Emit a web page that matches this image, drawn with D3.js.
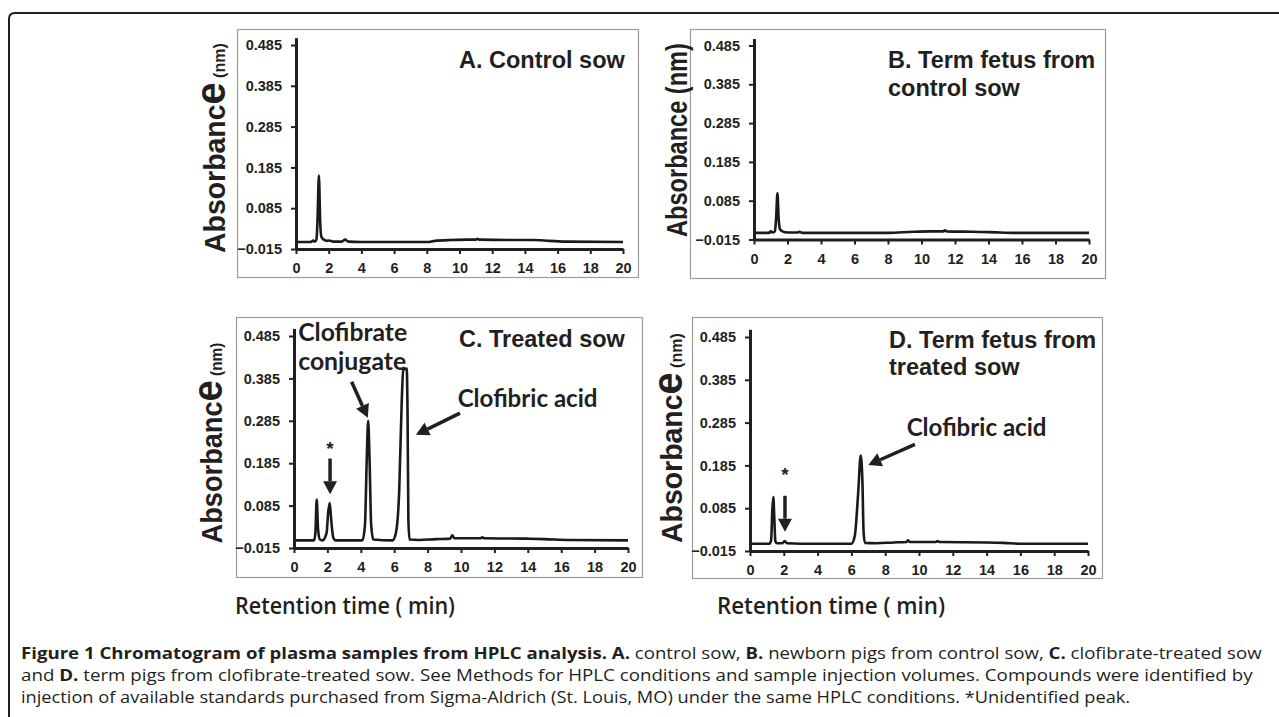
<!DOCTYPE html>
<html><head><meta charset="utf-8">
<script src="https://cdn.jsdelivr.net/npm/d3@7"></script>
<style>body{margin:0;background:#fff}svg{display:block}</style>
</head><body><svg id="c" width="1279" height="717"></svg>
<script>
// ---------- data ----------
const xTickValues = [0,2,4,6,8,10,12,14,16,18,20];
const yTickValues = [-0.015,0.085,0.185,0.285,0.385,0.485];

const timeA = [0,0.9,1.05,1.15,1.25,1.32,1.4,1.48,1.55,1.7,1.9,2.0,2.3,2.8,3.0,3.2,4,8,8.5,9.5,10.5,11.0,11.1,11.2,13,14.5,15.5,16.5,20];
const absA  = [0.002,0.002,0.006,0.003,0.008,0.06,0.165,0.05,0.015,0.008,0.005,0.006,0.003,0.003,0.008,0.003,0.002,0.002,0.005,0.007,0.008,0.008,0.010,0.008,0.007,0.007,0.005,0.003,0.002];

const timeB = [0,0.9,1.0,1.1,1.25,1.32,1.4,1.47,1.55,1.7,2.0,2.6,2.7,2.9,8,9.5,10.5,11.3,11.4,11.5,13,14,16,20];
const absB  = [0.002,0.002,0.006,0.003,0.006,0.04,0.104,0.04,0.012,0.006,0.003,0.003,0.005,0.002,0.002,0.005,0.006,0.006,0.009,0.006,0.005,0.004,0.002,0.002];

const timeC = [0,1.2,1.28,1.36,1.44,1.55,1.7,1.95,2.05,2.14,2.23,2.35,2.5,4.1,4.25,4.36,4.44,4.52,4.62,4.75,5.9,6.1,6.3,6.45,6.54,6.75,6.8,6.85,6.92,7.5,8.5,9.35,9.48,9.6,11.15,11.28,11.4,14,15,16.5,20];
const absC  = [0.003,0.003,0.02,0.099,0.03,0.005,0.003,0.02,0.07,0.091,0.05,0.01,0.003,0.003,0.04,0.2,0.285,0.2,0.04,0.005,0.003,0.02,0.12,0.33,0.405,0.408,0.3,0.05,0.005,0.004,0.006,0.007,0.015,0.008,0.008,0.010,0.008,0.007,0.006,0.004,0.003];

const timeD = [0,1.15,1.25,1.32,1.38,1.44,1.5,1.6,1.9,2.05,2.2,3,6.0,6.2,6.4,6.55,6.65,6.72,6.8,7.5,8.5,9.25,9.35,9.45,11.0,11.1,11.2,14,15,16,20];
const absD  = [0.002,0.002,0.01,0.08,0.111,0.06,0.008,0.003,0.003,0.008,0.003,0.002,0.002,0.02,0.12,0.208,0.15,0.03,0.004,0.003,0.005,0.006,0.010,0.006,0.006,0.008,0.006,0.005,0.004,0.002,0.002];

const titleA = ["A. Control sow"];
const titleB = ["B. Term fetus from","control sow"];
const titleC = ["C. Treated sow"];
const titleD = ["D. Term fetus from","treated sow"];

const xAxisTitle = "Retention time ( min)";
const captionLines = [
  [["Figure 1 Chromatogram of plasma samples from HPLC analysis. A.",true],[" control sow, ",false],["B.",true],[" newborn pigs from control sow, ",false],["C.",true],[" clofibrate-treated sow",false]],
  [["and ",false],["D.",true],[" term pigs from clofibrate-treated sow. See Methods for HPLC conditions and sample injection volumes. Compounds were identified by",false]],
  [["injection of available standards purchased from Sigma-Aldrich (St. Louis, MO) under the same HPLC conditions. *Unidentified peak.",false]]
];

// annotations in data coordinates [time, absorbance]
const annC = {
  texts: [["Clofibrate",0.25,0.473],["conjugate",0.25,0.405],["Clofibric acid",9.8,0.318]],
  arrows: [[[2.16,0.196],[2.16,0.112]],[[3.45,0.377],[4.42,0.292]],[[9.94,0.303],[7.3,0.252]]],
  stars: [[2.16,0.205]]
};
const annD = {
  texts: [["Clofibric acid",9.27,0.254]],
  arrows: [[[2.07,0.114],[2.07,0.030]],[[9.76,0.234],[7.0,0.186]]],
  stars: [[2.07,0.148]]
};

// ---------- layout ----------
const panels = [
  {t:timeA,a:absA,title:titleA,box:[237,29,638,277],x0:296,x1:623,yb:249,yt:45,tx:459,ty:[68],tw:[166],
   yl:{x:225,cy:148,len:210,split:true}},
  {t:timeB,a:absB,title:titleB,box:[690,29,1105,278],x0:754,x1:1089,yb:239.5,yt:45.5,tx:888,ty:[68,96],tw:[207,null],
   yl:{x:687,cy:140,len:194,split:false}},
  {t:timeC,a:absC,title:titleC,box:[236,317,642,577],x0:294,x1:628,yb:548,yt:336,tx:459,ty:[347],tw:[164],ann:annC,
   yl:{x:222,cy:443,len:201,split:true}},
  {t:timeD,a:absD,title:titleD,box:[692,317,1102,578],x0:750,x1:1088,yb:551,yt:337,tx:889,ty:[348,375],tw:[206,null],ann:annD,
   yl:{x:682,cy:438,len:210,split:true}}
];
const annWidths = {"Clofibrate":109,"conjugate":108,"Clofibric acid":140};

const ink = "#231f20";
const svg = d3.select("#c");

// outer frame
svg.append("path")
  .attr("d","M9,720 L9,19 Q9,13 15,13 L1280,13")
  .attr("fill","none").attr("stroke",ink).attr("stroke-width",2);

function fitWidth(sel, target){
  const w = sel.node().getComputedTextLength();
  return target / w;
}

panels.forEach(p=>{
  const g = svg.append("g");
  g.append("rect").attr("x",p.box[0]+0.5).attr("y",p.box[1]+0.5)
    .attr("width",p.box[2]-p.box[0]).attr("height",p.box[3]-p.box[1])
    .attr("fill","none").attr("stroke","#9c9c9c").attr("stroke-width",1.2);

  const x = d3.scaleLinear().domain([0,20]).range([p.x0,p.x1]);
  const k = (p.yb-p.yt)/0.5;
  const y = d3.scaleLinear().domain([-0.015,0.503]).range([p.yb, p.yb-0.518*k]);

  // trace
  const pts = p.t.map((tt,i)=>[tt,p.a[i]]);
  g.append("path").datum(pts)
    .attr("d", d3.line().x(d=>x(d[0])).y(d=>y(d[1])).curve(d3.curveMonotoneX))
    .attr("fill","none").attr("stroke","#1a1a1a").attr("stroke-width",2.6).attr("stroke-linejoin","round");

  // axes
  const ya = g.append("g").attr("transform",`translate(${p.x0},0)`)
    .call(d3.axisLeft(y).tickValues(yTickValues).tickFormat(d3.format(".3f")).tickSize(5).tickSizeOuter(0).tickPadding(9));
  const xa = g.append("g").attr("transform",`translate(0,${p.yb})`)
    .call(d3.axisBottom(x).tickValues(xTickValues).tickSize(5).tickSizeOuter(0).tickPadding(9));
  [ya,xa].forEach(a=>{
    a.select(".domain").attr("stroke",ink).attr("stroke-width",3);
    a.selectAll(".tick line").attr("stroke",ink).attr("stroke-width",2);
    a.selectAll(".tick text").attr("fill",ink)
      .style("font-family","'Liberation Sans',Arial,sans-serif").style("font-weight","bold").style("font-size","14.5px");
  });

  // title
  p.title.forEach((s,i)=>{
    g.append("text").attr("x",p.tx).attr("y",p.ty[i]).text(s)
      .attr("fill",ink).style("font-family","'Liberation Sans',Arial,sans-serif")
      .style("font-weight","bold").style("font-size","23.5px");
  });

  // y axis label
  const yl = g.append("text")
    .attr("transform",`translate(${p.yl.x},${p.yl.cy}) rotate(-90)`)
    .attr("text-anchor","middle").attr("fill",ink)
    .style("font-family","'Liberation Sans',Arial,sans-serif").style("font-weight","bold");
  if(p.yl.split){
    yl.append("tspan").text("Absorbanc").style("font-size","30px");
    yl.append("tspan").text("e").style("font-size","42px");
    yl.append("tspan").text(" (nm)").style("font-size","17px");
  } else {
    yl.append("tspan").text("Absorbance (nm)").style("font-size","30px");
  }
  const s = fitWidth(yl, p.yl.len);
  yl.attr("transform",`translate(${p.yl.x},${p.yl.cy}) rotate(-90) scale(${s},1)`);

  // annotations
  if(p.ann){
    p.ann.texts.forEach(tx=>{
      const t = g.append("text").attr("x",x(tx[1])).attr("y",y(tx[2])).text(tx[0])
        .attr("fill",ink).style("font-family","Lato,'Open Sans',sans-serif")
        .style("font-weight","bold").style("font-size","24.5px");
      const sc = fitWidth(t, annWidths[tx[0]]);
      t.attr("transform",`translate(${x(tx[1])*(1-sc)},0) scale(${sc},1)`);
    });
    p.ann.stars.forEach(st=>{
      g.append("text").attr("x",x(st[0])).attr("y",y(st[1])).attr("text-anchor","middle").text("*")
        .attr("fill",ink).style("font-family","'Liberation Sans',Arial,sans-serif")
        .style("font-weight","bold").style("font-size","19px");
    });
    p.ann.arrows.forEach(ar=>{
      const [sx,sy]=[x(ar[0][0]),y(ar[0][1])], [ex,ey]=[x(ar[1][0]),y(ar[1][1])];
      const ang = Math.atan2(ey-sy, ex-sx);
      const hl = 13, hw = 7;
      const bx = ex - hl*Math.cos(ang), by = ey - hl*Math.sin(ang);
      g.append("line").attr("x1",sx).attr("y1",sy).attr("x2",bx).attr("y2",by)
        .attr("stroke",ink).attr("stroke-width",3.5);
      const px = -Math.sin(ang), py = Math.cos(ang);
      g.append("path").attr("d",`M${ex},${ey} L${bx+px*hw},${by+py*hw} L${bx-px*hw},${by-py*hw} Z`)
        .attr("fill",ink);
    });
  }
});

// x axis titles
[[345,220],[831,228]].forEach(([cx,w])=>{
  const t = svg.append("text").attr("x",cx).attr("y",614).attr("text-anchor","middle")
    .attr("fill",ink).style("font-family","'Open Sans',sans-serif").style("font-weight","600")
    .style("font-size","24px").text(xAxisTitle);
  const s = fitWidth(t,w);
  t.attr("transform",`translate(${cx*(1-s)},0) scale(${s},1)`);
});

// caption
const capW = [1241,1232,1110];
captionLines.forEach((segs,i)=>{
  const yy = 659 + i*22;
  const t = svg.append("text").attr("x",21).attr("y",yy).attr("fill",ink)
    .style("font-family","'Open Sans',sans-serif").style("font-size","15.5px");
  segs.forEach(sg=>{
    t.append("tspan").text(sg[0]).style("font-weight",sg[1]?"bold":"normal");
  });
  const s = fitWidth(t,capW[i]);
  t.attr("transform",`translate(${21*(1-s)},0) scale(${s},1)`);
});
</script>
</body></html>
